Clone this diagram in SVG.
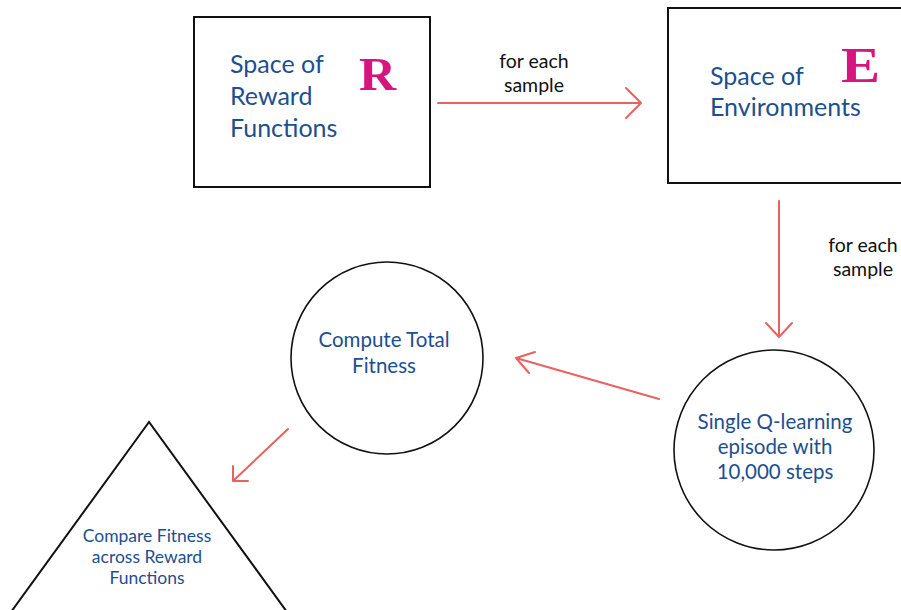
<svg xmlns="http://www.w3.org/2000/svg" width="901" height="610" viewBox="0 0 901 610">
  <style>
    .shape { fill: #ffffff; stroke: #111111; stroke-width: 2; }
    .circle { fill: #ffffff; stroke: #111111; stroke-width: 1.6; }
    .label { font-family: Lato, "Open Sans", "Liberation Sans", sans-serif; fill: #1d4f8e; text-anchor: middle; }
    .big { font-size: 25px; text-anchor: start; }
    .mid { font-size: 20.5px; }
    .small { font-size: 17.5px; }
    .note { font-family: Lato, "Open Sans", "Liberation Sans", sans-serif; font-size: 19.5px; fill: #111111; text-anchor: middle; }
    .sym { font-family: "Liberation Serif", "DejaVu Serif", serif; font-weight: bold; fill: #d6157f; }
    .edge { fill: none; stroke: #e8625f; stroke-width: 2; stroke-linecap: round; stroke-linejoin: round; }
  </style>
  <rect width="901" height="610" fill="#ffffff"/>

  <g id="node-reward-space">
    <rect class="shape" x="194" y="17" width="236" height="170"/>
    <text class="label big" x="230" y="73">Space of</text>
    <text class="label big" x="230" y="105">Reward</text>
    <text class="label big" x="230" y="137">Functions</text>
    <text class="sym" x="0" y="0" font-size="46" transform="translate(359 90) scale(1.12 1)">R</text>
  </g>

  <g id="node-environment-space">
    <rect class="shape" x="668" y="8" width="240" height="175"/>
    <text class="label big" x="710" y="85">Space of</text>
    <text class="label big" x="710" y="116">Environments</text>
    <text class="sym" x="0" y="0" font-size="51" transform="translate(841 82) scale(1.15 1)">E</text>
  </g>

  <g id="node-q-learning">
    <circle class="circle" cx="774" cy="450" r="100"/>
    <text class="label mid" x="775" y="429">Single Q-learning</text>
    <text class="label mid" x="775" y="454">episode with</text>
    <text class="label mid" x="775" y="479">10,000 steps</text>
  </g>

  <g id="node-total-fitness">
    <circle class="circle" cx="387" cy="358" r="96"/>
    <text class="label mid" x="384" y="347">Compute Total</text>
    <text class="label mid" x="384" y="373">Fitness</text>
  </g>

  <g id="node-compare">
    <polygon class="shape" points="149,422 11,612 287,612"/>
    <text class="label small" x="147" y="542">Compare Fitness</text>
    <text class="label small" x="147" y="563">across Reward</text>
    <text class="label small" x="147" y="584">Functions</text>
  </g>

  <g id="connectors">
    <path class="edge" d="M438 103 H641 M626 88 L641 103 L626 118"/>
    <text class="note" x="534" y="68">for each</text>
    <text class="note" x="534" y="92">sample</text>

    <path class="edge" d="M779 201 V337 M766 323 L779 337 L792 323"/>
    <text class="note" x="863" y="252">for each</text>
    <text class="note" x="863" y="276">sample</text>

    <path class="edge" d="M659 399 L516 358 M535 352 L516 358 L529 373"/>

    <path class="edge" d="M288 429 L233 481 M233 466 L233 481 L248 481"/>
  </g>
</svg>
